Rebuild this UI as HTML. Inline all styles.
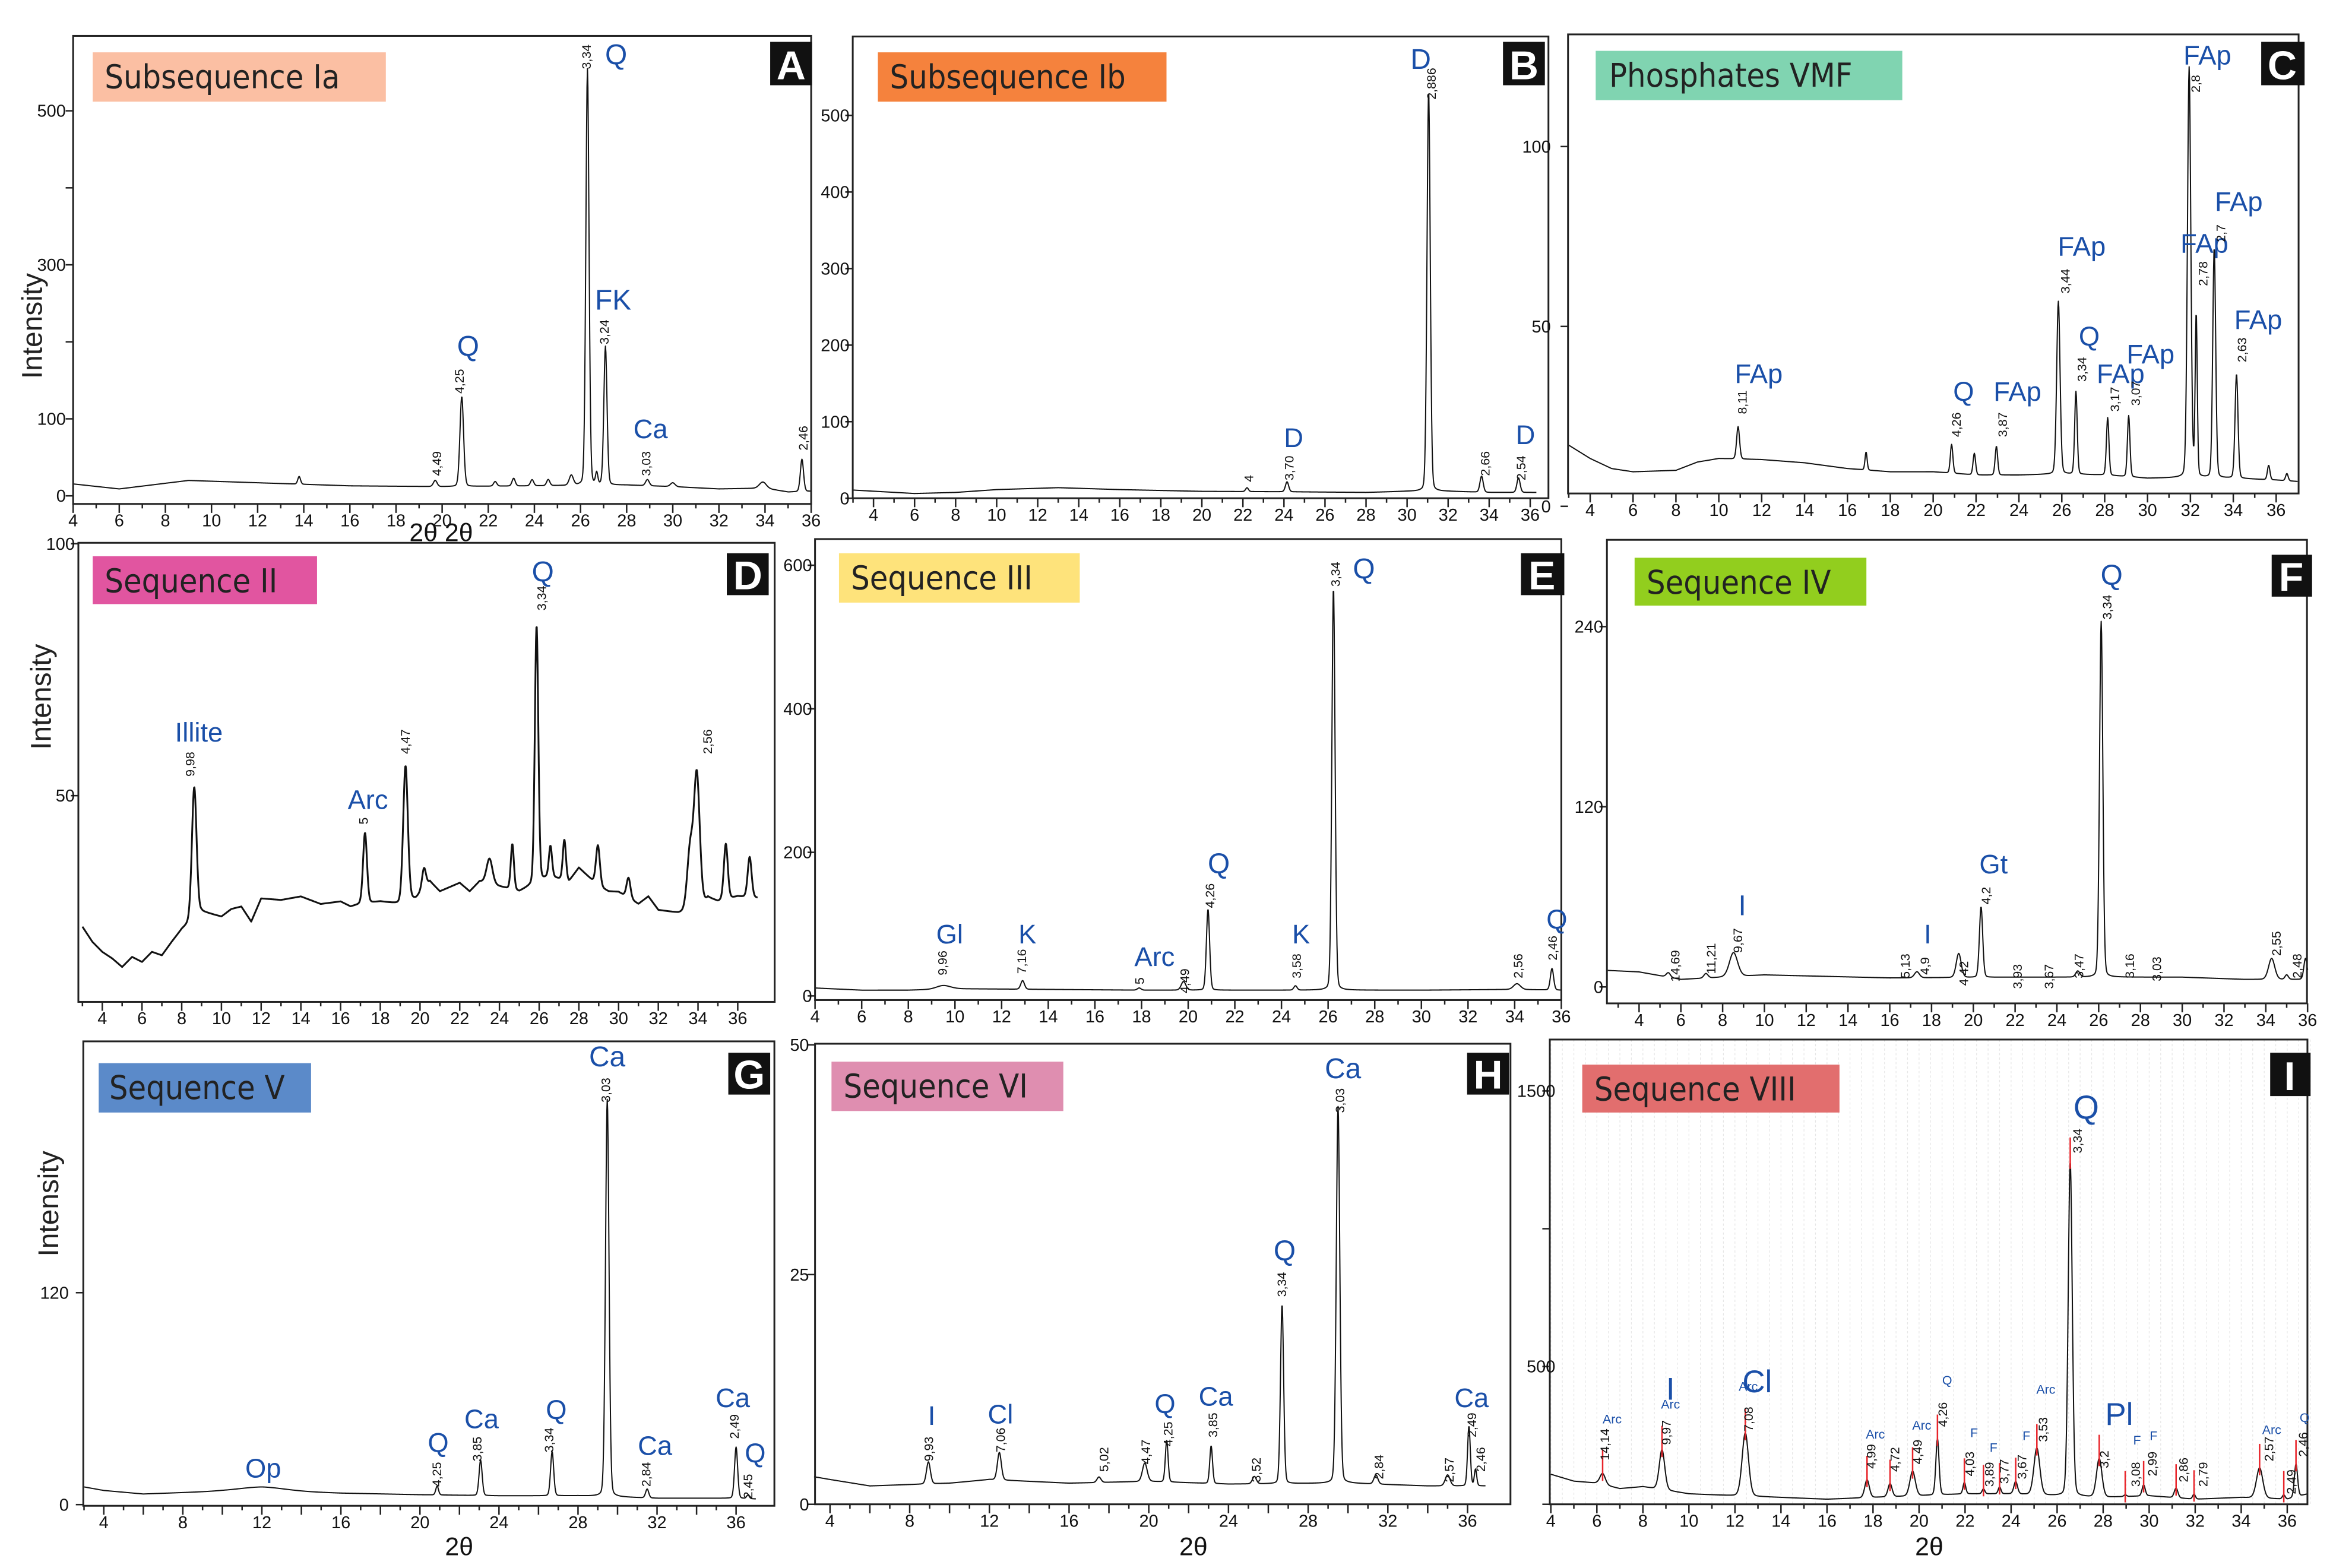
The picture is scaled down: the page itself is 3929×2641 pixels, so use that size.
<!DOCTYPE html>
<html><head><meta charset="utf-8"><style>
html,body{margin:0;padding:0;background:#fff}
svg{display:block}
text{font-family:"Liberation Sans",sans-serif}
.tk{font-family:"Liberation Sans Narrow","Liberation Sans",sans-serif;font-size:11.5px;fill:#111}
.ttl{font-size:22px;fill:#222;font-family:"DejaVu Sans Condensed","DejaVu Sans","Liberation Sans",sans-serif;font-stretch:condensed}
.lt{font-size:27px;fill:#fff;font-weight:bold}
.mn{fill:#1a4fa8}
.dl{font-size:8.5px;fill:#111}
</style></head><body>
<svg id="fig" xmlns="http://www.w3.org/2000/svg" width="3929" height="2641" viewBox="0 0 1560 1048.6">
<rect x="0" y="0" width="1560" height="1048.6" fill="#fff"/>
<g id="plots"></g>
<g id="statics">
<rect x="62" y="35" width="196" height="33" fill="#fbbfa3"/><text x="70" y="59" class="ttl">Subsequence Ia</text>
<rect x="587" y="35" width="193" height="33" fill="#f5823d"/><text x="595" y="59" class="ttl">Subsequence Ib</text>
<rect x="1067" y="34" width="205" height="33" fill="#80d4b1"/><text x="1076" y="58" class="ttl">Phosphates VMF</text>
<rect x="62" y="372" width="150" height="32" fill="#e155a0"/><text x="70" y="396" class="ttl">Sequence II</text>
<rect x="561" y="370" width="161" height="33" fill="#fee37b"/><text x="569" y="394" class="ttl">Sequence III</text>
<rect x="1093" y="373" width="155" height="32" fill="#92ce1e"/><text x="1101" y="397" class="ttl">Sequence IV</text>
<rect x="66" y="711" width="142" height="33" fill="#5b8ac9"/><text x="73" y="735" class="ttl">Sequence V</text>
<rect x="556" y="710" width="155" height="33" fill="#df8eb0"/><text x="564" y="734" class="ttl">Sequence VI</text>
<rect x="1058" y="712" width="172" height="32" fill="#e26e6e"/><text x="1066" y="736" class="ttl">Sequence VIII</text>
<g>
<rect x="515" y="28" width="28" height="29" fill="#111"/><text x="529" y="53" text-anchor="middle" class="lt">A</text>
<rect x="1005" y="28" width="28" height="29" fill="#111"/><text x="1019" y="53" text-anchor="middle" class="lt">B</text>
<rect x="1512" y="28" width="29" height="29" fill="#111"/><text x="1526" y="53" text-anchor="middle" class="lt">C</text>
<rect x="486" y="370" width="28" height="28" fill="#111"/><text x="500" y="394" text-anchor="middle" class="lt">D</text>
<rect x="1017" y="370" width="29" height="28" fill="#111"/><text x="1031" y="394" text-anchor="middle" class="lt">E</text>
<rect x="1519" y="371" width="27" height="28" fill="#111"/><text x="1532" y="395" text-anchor="middle" class="lt">F</text>
<rect x="487" y="704" width="28" height="28" fill="#111"/><text x="501" y="728" text-anchor="middle" class="lt">G</text>
<rect x="981" y="704" width="28" height="28" fill="#111"/><text x="995" y="728" text-anchor="middle" class="lt">H</text>
<rect x="1518" y="704" width="27" height="29" fill="#111"/><text x="1531" y="729" text-anchor="middle" class="lt">I</text>
</g>
<text transform="translate(28,218) rotate(-90)" text-anchor="middle" font-size="19" fill="#222">Intensity</text>
<text transform="translate(34,466) rotate(-90)" text-anchor="middle" font-size="19" fill="#222">Intensity</text>
<text transform="translate(39,805) rotate(-90)" text-anchor="middle" font-size="19" fill="#222">Intensity</text>
<text x="295" y="362" text-anchor="middle" font-size="17" font-family="Liberation Serif" fill="#111">2θ 2θ</text>
<text x="307" y="1040" text-anchor="middle" font-size="17" font-family="Liberation Serif" fill="#111">2θ</text>
<text x="798" y="1040" text-anchor="middle" font-size="17" font-family="Liberation Serif" fill="#111">2θ</text>
<text x="1290" y="1040" text-anchor="middle" font-size="17" font-family="Liberation Serif" fill="#111">2θ</text>
</g>
</svg>
<script>
// ---------- DATA (2θ positions, peak heights above baseline, widths in °2θ) ----------
const A_pos=[13.8,19.7,20.85,22.3,23.1,23.9,24.6,25.6,26.3,26.7,27.08,28.9,30.0,33.9,35.6];
const A_h=[10,8,117,6,10,8,8,13,541,15,180,8,5,8,42];
const A_w=[0.06,0.08,0.08,0.07,0.07,0.07,0.07,0.09,0.07,0.05,0.07,0.08,0.1,0.15,0.07];
const A_bt=[4,6,9,12,16,20,24,28,30,32,34,35,36];
const A_bv=[15.5,9,20,17,13,12,13,14,12,9,10,5,6];

const B_pos=[22.2,24.15,31.05,33.63,35.43];
const B_h=[5,13,523,21,19];
const B_w=[0.07,0.08,0.08,0.08,0.08];
const B_bt=[3,6,8,10,13,16,20,24,28,30,32,34,36.3];
const B_bv=[10.7,6.2,7.6,11.3,13.8,11.3,9,8.5,7.6,9,9,7.6,7.6];

const C_pos=[10.9,16.87,20.86,21.92,22.95,25.84,26.66,28.14,29.12,31.94,32.27,33.11,34.15,35.65,36.5];
const C_h=[9,5,8,6,8,48,23,16,17,114,45,64,29,4,2];
const C_w=[0.07,0.05,0.06,0.06,0.06,0.08,0.06,0.06,0.06,0.08,0.05,0.07,0.07,0.06,0.06];
const C_bt=[3,4,5,6,8,9,10,12,14,16,18,20,22,24,26,28,30,32,34,36,37];
const C_bv=[17,13.3,10.5,9.6,10,12.3,13.3,13,12.1,10.5,9.6,9.6,8.7,8.7,9,8.7,7.8,8,7.8,7.3,6.9];

const D_pos=[8.63,17.23,19.27,24.65,25.87,26.57,27.27,28.96,33.6,33.94,35.4,36.6,20.2,23.5,30.5];
const D_h=[26,14,27,9,51,6,8,8,12,27,11,8,4,5,4];
const D_w=[0.12,0.1,0.12,0.08,0.09,0.08,0.08,0.1,0.15,0.15,0.1,0.1,0.1,0.15,0.1];
const D_bt=[3,3.5,4,4.5,5,5.5,6,6.5,7,7.5,8,9,10,10.5,11,11.5,12,13,14,15,16,16.5,17,18,19,19.8,20.5,21,22,22.5,23,24,25,26.5,27.5,28,29,29.5,30,31,31.5,32,33,34,34.5,35,36,37];
const D_bv=[24,21,19,17.7,16,18,17,19,18.3,21,23.5,27,26,27.5,28,25,29.6,29.3,30,28.5,29,28,28.5,29,28.5,29.7,33,31,32.7,31,33,32,31,34,33,35.7,32,31,30.9,28.5,30,27.3,26.7,27,29.7,29,30,29.7];

const E_pos=[9.5,12.9,17.9,19.8,20.85,24.6,26.23,34.1,35.6];
const E_h=[5,12,3,12,113,6,562,8,30];
const E_w=[0.3,0.08,0.08,0.1,0.07,0.07,0.07,0.15,0.07];
const E_bt=[4,6,8,10,14,18,22,26,30,34,36];
const E_bv=[11,8,8,10,9,8,8,8,8,9,8];

const F_pos=[5.4,7.2,8.52,17.3,19.3,20.37,25.0,26.12,34.28,35.0,35.9];
const F_h=[3,3,16,4,16,47,4,237,14,3,14];
const F_w=[0.1,0.1,0.2,0.12,0.12,0.08,0.1,0.08,0.15,0.08,0.08];
const F_bt=[2.5,4,6,10,16,22,30,33,36];
const F_bv=[11,10,5,8,6,6.5,6.5,5,5];

const G_pos=[12,20.87,23.07,26.69,29.48,31.5,36.0,36.6];
const G_h=[2,5,20,25,225,5,29,2];
const G_w=[1.2,0.07,0.08,0.08,0.09,0.08,0.08,0.07];
const G_bt=[3,4,6,10,12,16,20,24,28,32,36,37];
const G_bv=[10,8,6,7.6,8,6.5,5.6,5,5,3.6,3.6,3.2];

const H_pos=[8.94,12.5,17.5,19.8,20.9,23.13,25.3,26.69,29.5,31.4,35.0,36.07,36.4];
const H_h=[2.4,3,0.6,2,4.5,4.1,0.8,19.5,41,1,1.2,6.5,1.8];
const H_w=[0.1,0.1,0.1,0.12,0.07,0.07,0.1,0.08,0.09,0.1,0.12,0.07,0.06];
const H_bt=[3.2,4,6,10,12,16,20,24,30,34,36.9];
const H_bv=[3,2.7,2,2.3,2.7,2.3,2.5,2.2,2.3,2,2];

const I_pos=[6.25,8.83,12.45,17.74,18.74,19.72,20.8,21.97,22.8,23.5,24.2,25.12,26.57,27.83,28.96,29.76,31.17,31.95,34.8,35.85,36.38];
const I_h=[40,145,230,65,48,90,205,42,18,25,45,170,1215,140,6,40,35,18,110,15,120];
const I_w=[0.12,0.12,0.14,0.1,0.09,0.12,0.07,0.06,0.06,0.06,0.08,0.13,0.09,0.12,0.06,0.07,0.08,0.06,0.14,0.06,0.07];
const I_bt=[4,5,6,7,8,10,12,14,16,18,20,22,24,26,28,30,32,34,36,36.9];
const I_bv=[109,84,77,57,64,38,31,25,18.5,25,31,38,38,31,25,31,18.5,25,18.5,38];

// tick label arrays
const ticks2=[4,6,8,10,12,14,16,18,20,22,24,26,28,30,32,34,36];
const ticks4=[4,8,12,16,20,24,28,32,36];
const A_yl=[0,100,300,500], A_yt=[0,100,200,300,400,500];
const B_yl=[0,100,200,300,400,500];
const C_yl=[0,50,100];
const D_yl=[50,100];
const E_yl=[0,200,400,600];
const F_yl=[0,120,240];
const G_yl=[0,120];
const H_yl=[0,25,50];
const I_yl=[500,1500], I_yt=[0,500,1000,1500];

// ---------- panel geometry ----------
const panels=[
 {id:'a',fx0:48.9,fx1:542.4,fy0:24,fy1:337,tA:4,pA:48.9,tB:36,pB:542.4,z:331.6,k:0.515,pos:A_pos,h:A_h,w:A_w,bt:A_bt,bv:A_bv,xt:ticks2,xl:ticks2,yl:A_yl,yt:A_yt,ylx:44,c0:4,c1:36},
 {id:'b',fx0:570.2,fx1:1035.4,fy0:24.4,fy1:333.2,tA:4,pA:584.1,tB:36,pB:1023.2,z:333.2,k:0.512,pos:B_pos,h:B_h,w:B_w,bt:B_bt,bv:B_bv,xt:ticks2,xl:ticks2,yl:B_yl,yt:B_yl,ylx:568,c0:3,c1:36.3},
 {id:'c',fx0:1048.5,fx1:1537,fy0:23,fy1:330,tA:4,pA:1063.3,tB:36,pB:1522,z:338.6,k:2.406,pos:C_pos,h:C_h,w:C_w,bt:C_bt,bv:C_bv,xt:ticks2,xl:ticks2,yl:C_yl,yt:C_yl,ylx:1037,c0:3,c1:37},
 {id:'d',fx0:52.4,fx1:518,fy0:363,fy1:670,tA:4,pA:68.4,tB:36,pB:493.3,z:700.6,k:3.37,pos:D_pos,h:D_h,w:D_w,bt:D_bt,bv:D_bv,xt:ticks2,xl:ticks2,yl:D_yl,yt:D_yl,ylx:50,c0:3,c1:37},
 {id:'e',fx0:545,fx1:1044,fy0:360.5,fy1:668.8,tA:4,pA:545,tB:36,pB:1044,z:666,k:0.48,pos:E_pos,h:E_h,w:E_w,bt:E_bt,bv:E_bv,xt:ticks2,xl:ticks2,yl:E_yl,yt:E_yl,ylx:543,c0:4,c1:36},
 {id:'f',fx0:1074.5,fx1:1542.6,fy0:361,fy1:671,tA:4,pA:1096,tB:36,pB:1543,z:660,k:1.004,pos:F_pos,h:F_h,w:F_w,bt:F_bt,bv:F_bv,xt:ticks2,xl:ticks2,yl:F_yl,yt:F_yl,ylx:1072,c0:2.5,c1:36},
 {id:'g',fx0:55.7,fx1:517.8,fy0:696.4,fy1:1007,tA:4,pA:69.4,tB:36,pB:492.2,z:1006.2,k:1.181,pos:G_pos,h:G_h,w:G_w,bt:G_bt,bv:G_bv,xt:ticks2,xl:ticks4,yl:G_yl,yt:G_yl,ylx:46,c0:3,c1:37},
 {id:'h',fx0:545,fx1:1010,fy0:698,fy1:1006,tA:4,pA:555,tB:36,pB:981.3,z:1006,k:6.145,pos:H_pos,h:H_h,w:H_w,bt:H_bt,bv:H_bv,xt:ticks2,xl:ticks4,yl:H_yl,yt:H_yl,ylx:541,c0:3.2,c1:36.9},
 {id:'i',fx0:1036.3,fx1:1542.9,fy0:695.2,fy1:1006,tA:4,pA:1037,tB:36,pB:1529.4,z:1006,k:0.1843,pos:I_pos,h:I_h,w:I_w,bt:I_bt,bv:I_bv,xt:ticks2,xl:ticks2,yl:I_yl,yt:I_yt,ylx:1040,c0:4,c1:36.9,grid:true}
];

// ---------- annotations (label text, display position) ----------
const annMin={
 a:[['Q',412,43,19],['Q',313,238,19],['FK',410,207,19],['Ca',435,293,18]],
 b:[['D',950,46,19],['D',865,299,18],['D',1020,297,18]],
 c:[['FAp',1476,43,18],['FAp',1497,141,18],['FAp',1474,169,18],['FAp',1510,220,18],['FAp',1392,171,18],['Q',1397,231,18],['FAp',1418,256,18],['FAp',1438,243,18],['FAp',1349,268,18],['Q',1313,268,18],['FAp',1176,256,18]],
 d:[['Q',363,389,19],['Illite',133,496,18],['Arc',246,541,18]],
 e:[['Q',912,387,19],['Q',815,584,19],['Gl',635,631,18],['K',687,631,18],['Arc',772,646,18],['K',870,631,18],['Q',1041,621,18]],
 f:[['Q',1412,391,19],['Gt',1333,584,18],['I',1165,612,19],['I',1289,631,18]],
 g:[['Ca',406,713,19],['Op',176,988,18],['Q',293,971,18],['Ca',322,955,18],['Q',372,949,18],['Ca',438,973,18],['Ca',490,941,18],['Q',505,978,18]],
 h:[['Ca',898,721,19],['Q',859,843,19],['Ca',813,940,18],['Q',779,945,18],['Cl',669,952,18],['I',623,953,18],['Ca',984,941,18]],
 i:[['Q',1395,748,22],['I',1117,936,21],['Cl',1175,931,21],['Pl',1417,953,21],['Arc',1078,952,8.5],['Arc',1117,942,8.5],['Arc',1169,930,8.5],['Arc',1254,962,8.5],['Arc',1285,956,8.5],['Q',1302,926,8.5],['F',1320,961,8.5],['F',1333,971,8.5],['F',1355,963,8.5],['Arc',1368,932,8.5],['F',1429,966,8.5],['F',1440,963,8.5],['Arc',1519,959,8.5],['Q',1541,951,8.5]]
};
const annD={
 a:[['3,34',395,38],['4,25',310,255],['3,24',407,222],['3,03',435,310],['4,49',295,310],['2,46',540,293]],
 b:[['2,886',960,56],['3,70',865,313],['4',838,320],['2,66',996,310],['2,54',1020,313]],
 c:[['2,8',1471,56],['2,7',1488,156],['2,78',1476,183],['2,63',1502,234],['3,44',1384,188],['3,34',1395,247],['3,17',1417,267],['3,07',1431,263],['3,87',1342,284],['4,26',1311,284],['8,11',1168,269]],
 d:[['9,98',130,511],['5',246,549],['4,47',274,496],['3,34',365,400],['2,56',476,496]],
 e:[['3,34',896,384],['4,26',812,599],['9,96',633,644],['7,16',686,643],['5',765,656],['4,49',795,656],['3,58',870,646],['2,56',1018,646],['2,46',1041,634]],
 f:[['3,34',1412,406],['4,2',1331,599],['9,67',1165,629],['5,13',1277,646],['4,9',1290,646],['4,42',1316,651],['3,93',1352,653],['3,67',1373,653],['3,47',1393,646],['3,16',1427,646],['3,03',1445,648],['2,55',1525,631],['2,48',1539,646],['14,69',1123,646],['11,21',1147,641]],
 g:[['3,03',408,729],['4,25',295,986],['3,85',322,969],['3,34',370,963],['2,84',435,986],['2,49',494,954],['2,45',503,994]],
 h:[['3,03',899,736],['3,34',860,859],['3,85',814,953],['4,25',784,959],['4,47',769,971],['5,02',741,976],['7,06',672,963],['9,93',624,969],['3,52',843,983],['2,84',925,981],['2,57',972,983],['2,49',987,953],['2,46',993,976]],
 i:[['3,34',1392,763],['14,14',1076,966],['9,97',1117,958],['7,08',1172,949],['4,99',1254,974],['4,72',1270,976],['4,49',1285,971],['4,26',1302,946],['4,03',1320,979],['3,89',1333,986],['3,77',1343,984],['3,67',1355,981],['3,53',1369,956],['3,2',1410,976],['3,08',1431,986],['2,99',1442,979],['2,86',1463,983],['2,79',1476,986],['2,57',1520,969],['2,49',1535,991],['2,46',1543,966]]
};

// ---------- drawing ----------
const NS='http://www.w3.org/2000/svg';
const root=document.getElementById('plots');
function mk(tag,attrs,parent){const e=document.createElementNS(NS,tag);for(const k in attrs)e.setAttribute(k,attrs[k]);(parent||root).appendChild(e);return e;}
function interp(t,xs,ys){if(t<=xs[0])return ys[0];for(let i=1;i<xs.length;i++){if(t<=xs[i]){const f=(t-xs[i-1])/(xs[i]-xs[i-1]);return ys[i-1]+f*(ys[i]-ys[i-1]);}}return ys[ys.length-1];}

panels.forEach(p=>{
  const X=t=>p.pA+(t-p.tA)*(p.pB-p.pA)/(p.tB-p.tA);
  const Y=v=>p.z-v*p.k;
  const g=mk('g',{});
  
  
  if(p.grid){
    for(let t=4;t<=37;t+=0.5){const gl=mk('line',{x1:X(t),x2:X(t),y1:p.fy0,y2:p.fy1,stroke:'#e6e6e6','stroke-width':0.5,'stroke-dasharray':'1.5 1.5'},g);
      
      }
  }
  let d='';
  for(let t=p.c0;t<=p.c1+1e-9;t+=0.02){
    let v=interp(t,p.bt,p.bv);
    for(let i=0;i<p.pos.length;i++){const u=(t-p.pos[i])/p.w[i];v+=p.h[i]*(0.85*Math.exp(-0.5*u*u)+0.15/(1+u*u));}
    let y=Math.max(Y(v),p.fy0+1);
    d+=(d?'L':'M')+X(t).toFixed(2)+' '+y.toFixed(2);
  }
  const path=mk('path',{d:d,fill:'none',stroke:'#111','stroke-width':p.id==='d'?1.2:0.8,'stroke-linejoin':'round'},g);
  
  
  if(p.id==='i'){
    p.pos.forEach((t,i)=>{const top=Y(interp(t,p.bt,p.bv)+p.h[i]);
      const m=mk('line',{x1:X(t),x2:X(t),y1:top-16,y2:top+5,stroke:'#e8242a','stroke-width':1},g);
      
      });
  }
  const fr=mk('rect',{x:p.fx0,y:p.fy0,width:p.fx1-p.fx0,height:p.fy1-p.fy0,fill:'none',stroke:'#222','stroke-width':1.2},g);
  
  
  for(let t=Math.ceil(p.c0);t<=36;t++){
    const major=p.xt.indexOf(t)>=0;
    const tk=mk('line',{x1:X(t),x2:X(t),y1:p.fy1,y2:p.fy1+(major?6:3),stroke:'#222','stroke-width':1},g);
    
    
  }
  p.xl.forEach(t=>{const tl=mk('text',{x:X(t),y:p.fy1+15,'text-anchor':'middle',class:'tk'},g);tl.textContent=t;
    
    });
  p.yt.forEach(v=>{const yy=Y(v);if(yy<p.fy0-2||yy>p.fy1+40)return;
    const tk=mk('line',{x1:p.fx0-5,x2:p.fx0,y1:yy,y2:yy,stroke:'#222','stroke-width':1},g);
    
    });
  p.yl.forEach(v=>{const yy=Y(v);
    const tl=mk('text',{x:p.ylx,y:yy+4,'text-anchor':'end',class:'tk'},g);tl.textContent=v;
    
    });
  annMin[p.id].forEach(a=>{const tx=mk('text',{x:a[1],y:a[2],'text-anchor':'middle',class:'mn','font-size':a[3]},g);tx.textContent=a[0];
    
    });
  annD[p.id].forEach(a=>{const tx=mk('text',{transform:'translate('+a[1]+','+a[2]+') rotate(-90)','text-anchor':'middle',class:'dl','font-size':p.id==='i'?10:8.5},g);tx.textContent=a[0];
    
    });
});
</script>
</body></html>
